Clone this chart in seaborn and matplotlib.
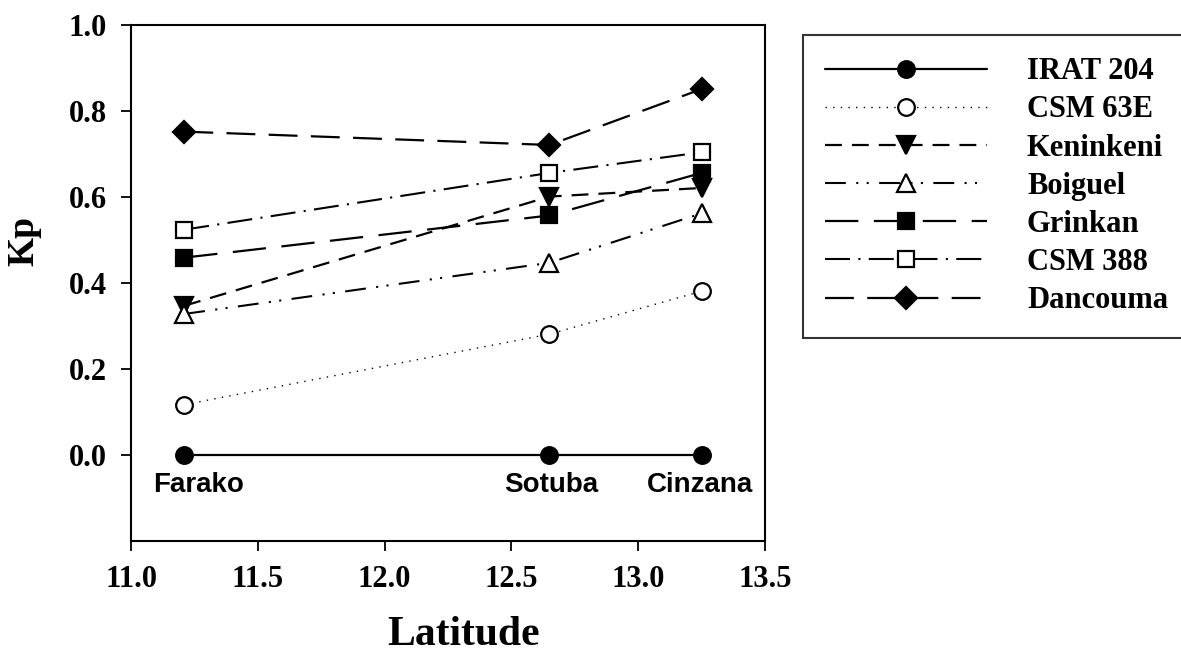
import matplotlib
matplotlib.use("Agg")
import matplotlib.pyplot as plt
from matplotlib.lines import Line2D
import seaborn as sns
import pandas as pd

# Sites and their latitudes (degrees N)
sites = ["Farako", "Sotuba", "Cinzana"]
latitude = [11.21, 12.65, 13.25]

# Kp per variety at each site
varieties = ["IRAT 204", "CSM 63E", "Keninkeni", "Boiguel", "Grinkan", "CSM 388", "Dancouma"]
irat_204 = [0.0, 0.0, 0.0]
csm_63e = [0.117, 0.281, 0.381]
keninkeni = [0.347, 0.601, 0.621]
boiguel = [0.328, 0.447, 0.562]
grinkan = [0.459, 0.557, 0.656]
csm_388 = [0.524, 0.656, 0.704]
dancouma = [0.752, 0.721, 0.851]

series = [irat_204, csm_63e, keninkeni, boiguel, grinkan, csm_388, dancouma]

rows = []
for name, vals in zip(varieties, series):
    for lat, v in zip(latitude, vals):
        rows.append({"variety": name, "Latitude": lat, "Kp": v})
df = pd.DataFrame(rows)

styles = {
    "IRAT 204":  dict(marker="o", mfc="black", ls="-", lw=1.6),
    "CSM 63E":   dict(marker="o", mfc="white", ls=(0, (1, 4.5)), lw=1.0),
    "Keninkeni": dict(marker="v", mfc="black", ls=(0, (7.6, 4.5)), lw=1.6),
    "Boiguel":   dict(marker="^", mfc="white", ls=(0, (10, 5, 1, 4, 1, 5)), lw=1.5),
    "Grinkan":   dict(marker="s", mfc="black", ls=(0, (15, 7)), lw=1.6),
    "CSM 388":   dict(marker="s", mfc="white", ls=(0, (12, 4, 1, 4)), lw=1.5),
    "Dancouma":  dict(marker="D", mfc="black", ls=(0, (13, 6)), lw=1.6),
}
msize = {"o": 12, "v": 13.5, "^": 13.5, "s": 11.5, "D": 11.5}

sns.set_theme(style="white")
plt.rcParams["font.family"] = ["Liberation Serif", "DejaVu Serif"]
for key in ["text.color", "axes.labelcolor", "xtick.color", "ytick.color"]:
    plt.rcParams[key] = "black"

W, H = 1181, 656
fig = plt.figure(figsize=(W / 100, H / 100), dpi=100)
left, right, top, bottom = 131, 765, 25, 541
ax = fig.add_axes([left / W, 1 - bottom / H, (right - left) / W, (bottom - top) / H])

handles = []
for name in varieties:
    st = styles[name]
    sub = df[df["variety"] == name]
    sns.lineplot(data=sub, x="Latitude", y="Kp", ax=ax, color="black",
                 linestyle=st["ls"], linewidth=st["lw"], marker=st["marker"],
                 markersize=msize[st["marker"]], markerfacecolor=st["mfc"],
                 markeredgecolor="black", markeredgewidth=1.6, legend=False,
                 zorder=3)
    handles.append(Line2D([], [], color="black", linestyle=st["ls"], linewidth=st["lw"],
                          marker=st["marker"], markersize=msize[st["marker"]],
                          markerfacecolor=st["mfc"], markeredgecolor="black",
                          markeredgewidth=1.6, label=name))

ax.set_xlim(11.0, 13.5)
ax.set_ylim(-0.2, 1.0)
ax.set_xticks([11.0, 11.5, 12.0, 12.5, 13.0, 13.5])
ax.set_yticks([0.0, 0.2, 0.4, 0.6, 0.8, 1.0])
ax.set_xticklabels([f"{t:.1f}" for t in ax.get_xticks()], fontweight="bold", fontsize=22)
ax.set_yticklabels([f"{t:.1f}" for t in ax.get_yticks()], fontweight="bold", fontsize=22)
ax.tick_params(axis="both", direction="out", length=7.2, width=1.3, pad=10,
               bottom=True, left=True, top=False, right=False, colors="black")
for sp in ax.spines.values():
    sp.set_color("black")
    sp.set_linewidth(1.5)

ax.set_xlabel("Latitude", fontsize=30, fontweight="bold")
ax.xaxis.set_label_coords((464 - left) / (right - left), (bottom - 616) / (bottom - top))
ax.set_ylabel("Kp", fontsize=27, fontweight="bold")
ax.yaxis.set_label_coords((41 - left) / (right - left), (bottom - 241) / (bottom - top))

# Site names under the markers
offsets = [10, 1, -1]
for s, lat, dx in zip(sites, latitude, offsets):
    ax.annotate(s, xy=(lat, 0.0), xytext=(dx, -12), textcoords="offset points",
                ha="center", va="top", fontsize=20, fontweight="bold",
                family=["Liberation Sans", "DejaVu Sans"])

leg = fig.legend(handles=handles, loc="upper left",
                 bbox_to_anchor=(803 / W, 0.0, 0.35, 1 - 35 / H), mode="expand",
                 prop={"weight": "bold", "size": 22}, handlelength=5.3,
                 labelspacing=0.30, handletextpad=1.3, borderpad=0.73,
                 borderaxespad=0, fancybox=False, frameon=True)
leg.get_frame().set_edgecolor("black")
leg.get_frame().set_linewidth(1.5)

fig.savefig("out.png", dpi=100)
